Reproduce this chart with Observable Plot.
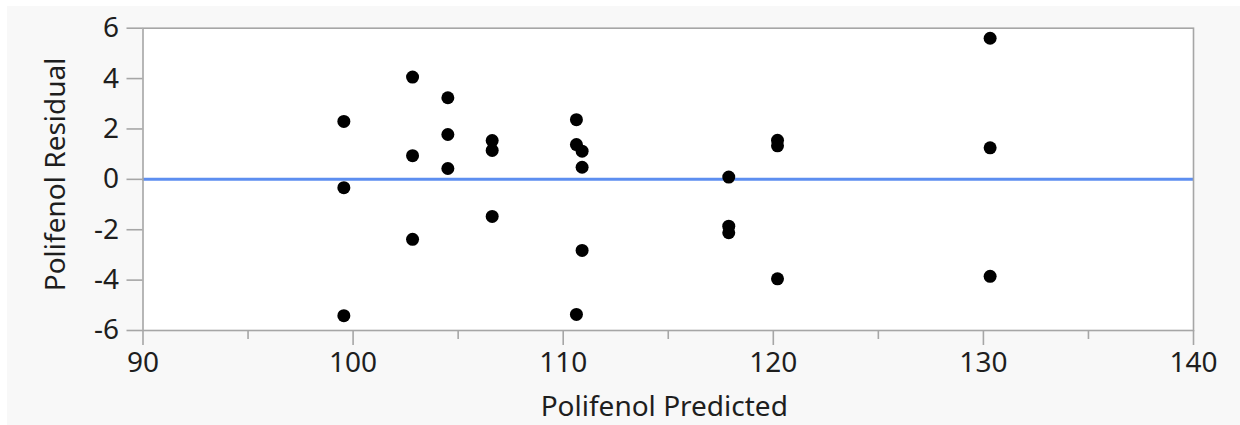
<!DOCTYPE html>
<html>
<head>
<meta charset="utf-8">
<script src="https://cdn.jsdelivr.net/npm/d3@7"></script>
<script src="https://cdn.jsdelivr.net/npm/@observablehq/plot@0.6"></script>
<style>
  html, body { margin: 0; padding: 0; background: #ffffff; }
</style>
</head>
<body>
<div id="chart"></div>
<script>
// Data
const predicted = [
  99.56, 99.56, 99.56,
  102.83, 102.83, 102.83,
  104.51, 104.51, 104.51,
  106.62, 106.62, 106.62,
  110.63, 110.63, 110.63,
  110.90, 110.90, 110.90,
  117.88, 117.88, 117.88,
  120.20, 120.20, 120.20,
  130.32, 130.32, 130.32
];
const residual = [
  2.30, -0.33, -5.41,
  4.06, 0.94, -2.38,
  3.24, 1.78, 0.43,
  1.54, 1.15, -1.47,
  2.37, 1.38, -5.36,
  1.12, 0.48, -2.82,
  0.09, -1.86, -2.12,
  1.55, 1.33, -3.95,
  5.60, 1.25, -3.85
];
const xMajorTicks = [90, 100, 110, 120, 130, 140];
const xMinorTicks = [95, 105, 115, 125, 135];
const yTicks = [-6, -4, -2, 0, 2, 4, 6];
const xLabel = "Polifenol Predicted";
const yLabel = "Polifenol Residual";

const data = predicted.map((p, i) => ({predicted: p, residual: residual[i]}));

const chart = Plot.plot({
  width: 1240,
  height: 425,
  marginLeft: 142.5,
  marginRight: 47,
  marginTop: 27.7,
  marginBottom: 95,
  style: {
    fontFamily: "'Noto Sans', 'Open Sans', sans-serif",
    fontSize: "28px",
    color: "#1e1e1e",
    background: "linear-gradient(#f8f8f8, #f8f8f8) 7px 6px / 1233px 419px no-repeat, #ffffff"
  },
  x: {domain: [90, 140]},
  y: {domain: [-6, 6]},
  marks: [
    Plot.frame({fill: "#ffffff", stroke: "none"}),
    Plot.ruleY([0], {stroke: "#5d8ef0", strokeWidth: 3}),
    Plot.frame({stroke: "#a6a6a6", strokeWidth: 1.6}),
    Plot.axisX({ticks: xMajorTicks, tickSize: 15, tickPadding: 7, stroke: "#a6a6a6", strokeWidth: 1.6,
      fill: "#1e1e1e", label: null, tickFormat: d => String(d)}),
    Plot.axisX({ticks: xMinorTicks, tickSize: 9, text: null, label: null, stroke: "#a6a6a6", strokeWidth: 1.6}),
    Plot.axisY({ticks: yTicks, tickSize: 16, tickPadding: 8, stroke: "#a6a6a6", strokeWidth: 1.6,
      fill: "#1e1e1e", label: null, tickFormat: d => String(d)}),
    Plot.text([xLabel], {frameAnchor: "bottom", text: d => d, textAnchor: "middle", lineAnchor: "middle", dy: 77, dx: -4,
      fill: "#1e1e1e", fontSize: 28}),
    Plot.text([yLabel], {frameAnchor: "left", text: d => d, textAnchor: "middle", lineAnchor: "middle", rotate: -90, dx: -87, dy: -5,
      fill: "#1e1e1e", fontSize: 28}),
    Plot.dot(data, {x: "predicted", y: "residual", r: 6.5, fill: "#000000", stroke: "none"})
  ]
});

document.getElementById("chart").appendChild(chart);
</script>
</body>
</html>
